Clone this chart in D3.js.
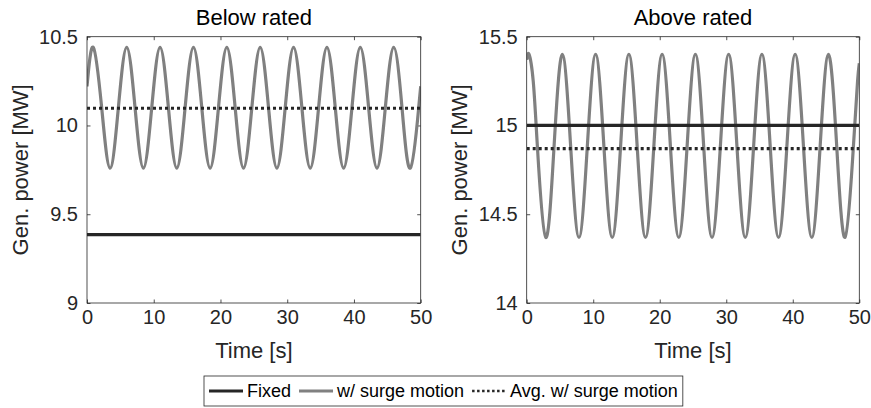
<!DOCTYPE html>
<html>
<head>
<meta charset="utf-8">
<script src="https://cdn.jsdelivr.net/npm/d3@7"></script>
<style>
  body { margin: 0; background: #fff; }
  svg { font-family: "Liberation Sans", Arial, Helvetica, sans-serif; }
</style>
</head>
<body>
<div id="drawing"></div>
<script>
// data (key points: start, peaks, mean crossings, troughs, end)
var timeBelow = [0, 0.95, 2.2, 3.45, 4.7, 5.95, 7.2, 8.45, 9.7, 10.95, 12.2, 13.45, 14.7,
  15.95, 17.2, 18.45, 19.7, 20.95, 22.2, 23.45, 24.7, 25.95, 27.2, 28.45, 29.7, 30.95,
  32.2, 33.45, 34.7, 35.95, 37.2, 38.45, 39.7, 40.95, 42.2, 43.45, 44.7, 45.95, 47.2,
  48.45, 49.7, 50];
var surgeBelow = [10.22,
  10.44, 10.10, 9.76, 10.10, 10.44, 10.10, 9.76, 10.10, 10.44, 10.10, 9.76, 10.10,
  10.44, 10.10, 9.76, 10.10, 10.44, 10.10, 9.76, 10.10, 10.44, 10.10, 9.76, 10.10,
  10.44, 10.10, 9.76, 10.10, 10.44, 10.10, 9.76, 10.10, 10.44, 10.10, 9.76, 10.10,
  10.44, 10.10, 9.76, 10.10,
  10.22];
var fixedBelow = 9.385;
var avgBelow = 10.097;

var timeAbove = [0, 0.36, 0.98, 1.61, 2.86, 4.11, 5.36, 6.61, 7.86, 9.11, 10.36, 11.61, 12.86,
  14.11, 15.36, 16.61, 17.86, 19.11, 20.36, 21.61, 22.86, 24.11, 25.36, 26.61, 27.86,
  29.11, 30.36, 31.61, 32.86, 34.11, 35.36, 36.61, 37.86, 39.11, 40.36, 41.61, 42.86,
  44.11, 45.36, 46.61, 47.86, 49.11, 49.74, 50];
var surgeAbove = [15.37,
  15.40, 15.25, 14.88, 14.37, 14.88, 15.40, 14.88, 14.37, 14.88, 15.40, 14.88, 14.37, 14.88,
  15.40, 14.88, 14.37, 14.88, 15.40, 14.88, 14.37, 14.88, 15.40, 14.88, 14.37, 14.88,
  15.40, 14.88, 14.37, 14.88, 15.40, 14.88, 14.37, 14.88, 15.40, 14.88, 14.37, 14.88,
  15.40, 14.88, 14.37, 14.88, 15.25,
  15.35];
var fixedAbove = 15.0;
var avgAbove = 14.87;

var xTicks = [0, 10, 20, 30, 40, 50];
var yTicksBelow = [9, 9.5, 10, 10.5];
var yTicksAbove = [14, 14.5, 15, 15.5];
var titles = ["Below rated", "Above rated"];
var legendLabels = ["Fixed", "w/ surge motion", "Avg. w/ surge motion"];

var width = 871, height = 408;
var axColor = "#262626";
var grey = "#808080";
var dark = "#262626";

var svg = d3.select("#drawing").append("svg")
  .attr("width", width)
  .attr("height", height);

var panels = [
  {left: 87, right: 420.7, yDom: [9, 10.5], yTicks: yTicksBelow, t: timeBelow, v: surgeBelow,
   fixed: fixedBelow, avg: avgBelow, title: titles[0], ylabX: 20},
  {left: 526.7, right: 859.3, yDom: [14, 15.5], yTicks: yTicksAbove, t: timeAbove, v: surgeAbove,
   fixed: fixedAbove, avg: avgAbove, title: titles[1], ylabX: 459}
];
var plotTop = 36.7, plotBottom = 303;

panels.forEach(function(p, i) {
  var x = d3.scaleLinear().domain([0, 50]).range([p.left, p.right]);
  var y = d3.scaleLinear().domain(p.yDom).range([plotBottom, plotTop]);
  var g = svg.append("g");

  g.append("clipPath").attr("id", "clip" + i)
    .append("rect")
    .attr("x", p.left).attr("y", plotTop)
    .attr("width", p.right - p.left).attr("height", plotBottom - plotTop);

  var fmt = d3.format("~g");
  var xb = g.append("g").attr("transform", `translate(0,${plotBottom})`)
    .call(d3.axisBottom(x).tickValues(xTicks).tickFormat(fmt).tickSizeInner(-3.5).tickSizeOuter(0).tickPadding(7));
  var xt = g.append("g").attr("transform", `translate(0,${plotTop})`)
    .call(d3.axisTop(x).tickValues(xTicks).tickFormat("").tickSizeInner(-3.5).tickSizeOuter(0));
  var yl = g.append("g").attr("transform", `translate(${p.left},0)`)
    .call(d3.axisLeft(y).tickValues(p.yTicks).tickFormat(fmt).tickSizeInner(-3.5).tickSizeOuter(0).tickPadding(9));
  var yr = g.append("g").attr("transform", `translate(${p.right},0)`)
    .call(d3.axisRight(y).tickValues(p.yTicks).tickFormat("").tickSizeInner(-3.5).tickSizeOuter(0));

  [xb, xt, yl, yr].forEach(function(a) {
    a.select(".domain").remove();
    a.selectAll("line").attr("stroke", axColor).attr("stroke-width", 0.8);
    a.selectAll("text").attr("fill", axColor).style("font-size", "20px");
  });

  var plot = g.append("g").attr("clip-path", `url(#clip${i})`);
  var pts = p.t.map(function(d, k) { return [d, p.v[k]]; });
  var line = d3.line()
    .x(function(d) { return x(d[0]); })
    .y(function(d) { return y(d[1]); })
    .curve(d3.curveNatural);

  plot.append("path")
    .attr("d", line(pts))
    .attr("fill", "none")
    .attr("stroke", grey)
    .attr("stroke-width", 3.2);

  plot.append("path")
    .attr("d", line([[0, p.fixed], [50, p.fixed]]))
    .attr("fill", "none")
    .attr("stroke", dark)
    .attr("stroke-width", 3.2);

  plot.append("path")
    .attr("d", line([[0, p.avg], [50, p.avg]]))
    .attr("fill", "none")
    .attr("stroke", dark)
    .attr("stroke-width", 3.2)
    .attr("stroke-dasharray", "3,3");

  g.append("rect")
    .attr("x", p.left).attr("y", plotTop)
    .attr("width", p.right - p.left).attr("height", plotBottom - plotTop)
    .attr("fill", "none")
    .attr("stroke", axColor)
    .attr("stroke-width", 0.8);

  g.append("text")
    .attr("x", (p.left + p.right) / 2).attr("y", 25)
    .attr("text-anchor", "middle")
    .attr("fill", "#000")
    .style("font-size", "22px")
    .text(p.title);

  g.append("text")
    .attr("x", (p.left + p.right) / 2).attr("y", 358)
    .attr("text-anchor", "middle")
    .attr("fill", axColor)
    .style("font-size", "22px")
    .text("Time [s]");

  g.append("text")
    .attr("transform", `translate(${p.ylabX + 8},${(plotTop + plotBottom) / 2}) rotate(-90)`)
    .attr("text-anchor", "middle")
    .attr("fill", axColor)
    .style("font-size", "22px")
    .text("Gen. power [MW]");
});

// legend
var legendStyles = [
  {color: dark, dash: null},
  {color: grey, dash: null},
  {color: dark, dash: "2.5,2.5"}
];
var legend = svg.append("g");
var lx = 209, ly = 391;
var items = legend.append("g");
legendLabels.forEach(function(lab, i) {
  var s = legendStyles[i];
  var seg = items.append("line")
    .attr("x1", lx).attr("x2", lx + 34)
    .attr("y1", ly).attr("y2", ly)
    .attr("stroke", s.color)
    .attr("stroke-width", 3);
  if (s.dash) seg.attr("stroke-dasharray", s.dash).attr("stroke-width", 2.5);
  var t = items.append("text")
    .attr("x", lx + 38).attr("y", ly)
    .attr("dy", "0.35em")
    .attr("fill", "#000")
    .style("font-size", "18px")
    .text(lab);
  lx = lx + 38 + t.node().getComputedTextLength() + 8;
});
legend.insert("rect", ":first-child")
  .attr("x", 204).attr("y", 376)
  .attr("width", lx - 8 - 204 + 5).attr("height", 30)
  .attr("fill", "#fff")
  .attr("stroke", axColor)
  .attr("stroke-width", 0.8);
</script>
</body>
</html>
